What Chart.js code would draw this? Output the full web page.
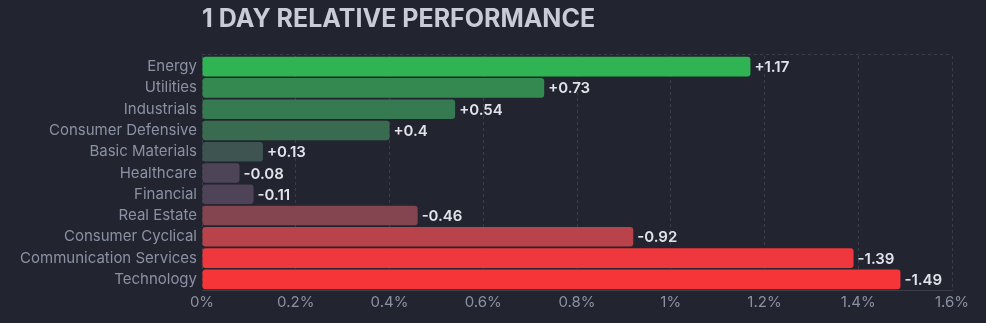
<!DOCTYPE html>
<html><head><meta charset="utf-8">
<script src="https://cdn.jsdelivr.net/npm/chart.js@4/dist/chart.umd.min.js"></script>
<style>html,body{margin:0;padding:0;background:#22252f;}#wrap{width:986px;height:323px;position:relative;}</style>
</head><body><div id="wrap"><canvas id="c"></canvas></div>
<script>
const categories = ["Energy","Utilities","Industrials","Consumer Defensive","Basic Materials","Healthcare","Financial","Real Estate","Consumer Cyclical","Communication Services","Technology"];
const changes = [1.17,0.73,0.54,0.4,0.13,-0.08,-0.11,-0.46,-0.92,-1.39,-1.49];
const barColors = ["#30b352","#33894f","#367a51","#386b50","#3d5450","#4e4457","#4e4357","#844550","#b8434b","#ef383d","#f63539"];
const xTicks = [0,0.2,0.4,0.6,0.8,1,1.2,1.4,1.6];
const xTickLabels = ["0%","0.2%","0.4%","0.6%","0.8%","1%","1.2%","1.4%","1.6%"];
const title = "1 DAY RELATIVE PERFORMANCE";

const FONT = "Inter, 'Noto Sans', sans-serif";
const gridColor = "#3a3e4b";

const decor = {
  id: 'decor',
  beforeDatasetsDraw(chart) {
    const {ctx, chartArea: a} = chart;
    ctx.save();
    ctx.strokeStyle = gridColor; ctx.lineWidth = 1; ctx.setLineDash([3,3]);
    ctx.beginPath(); ctx.moveTo(a.left, a.top - 1.5); ctx.lineTo(a.right, a.top - 1.5); ctx.stroke();
    ctx.restore();
  },
  afterDatasetsDraw(chart) {
    const {ctx, chartArea: a} = chart;
    const meta = chart.getDatasetMeta(0);
    ctx.save();
    ctx.font = "600 15px " + FONT;
    ctx.fillStyle = "#e2e3ea";
    ctx.textBaseline = "middle";
    ctx.textAlign = "left";
    meta.data.forEach((bar, i) => {
      const v = changes[i];
      const s = (v > 0 ? "+" : "") + String(v);
      ctx.fillText(s, bar.x + 4, bar.y + 1);
    });
    ctx.font = "bold 25px " + FONT;
    ctx.fillStyle = "#c9cbd8";
    ctx.textBaseline = "middle";
    ctx.fillText(title, a.left, 19);
    ctx.restore();
  }
};

new Chart(document.getElementById('c'), {
  type: 'bar',
  data: {
    labels: categories,
    datasets: [{
      data: changes.map(Math.abs),
      backgroundColor: barColors,
      borderRadius: 3,
      borderSkipped: false,
      barPercentage: 0.92,
      categoryPercentage: 1
    }]
  },
  options: {
    indexAxis: 'y',
    responsive: true,
    maintainAspectRatio: false,
    animation: false,
    layout: { padding: { top: 56, right: 34, bottom: 0, left: 0 } },
    plugins: { legend: { display: false }, tooltip: { enabled: false }, title: { display: false } },
    scales: {
      x: {
        min: 0, max: 1.6,
        afterBuildTicks(scale) { scale.ticks = xTicks.map(v => ({ value: v })); },
        afterFit(scale) { scale.height = 33; },
        ticks: {
          color: "#8b91a4",
          font: { family: FONT, size: 15 },
          padding: 3,
          callback: (v, i) => xTickLabels[i]
        },
        grid: { color: gridColor, drawTicks: false, tickBorderDash: [3,3] },
        border: { display: true, color: gridColor, dash: [3,3] }
      },
      y: {
        afterFit(scale) { scale.width = 202; },
        ticks: {
          color: "#8b91a4",
          font: { family: FONT, size: 15 },
          padding: 5
        },
        grid: { display: false, drawTicks: false },
        border: { display: false }
      }
    }
  },
  plugins: [decor]
});
</script></body></html>
